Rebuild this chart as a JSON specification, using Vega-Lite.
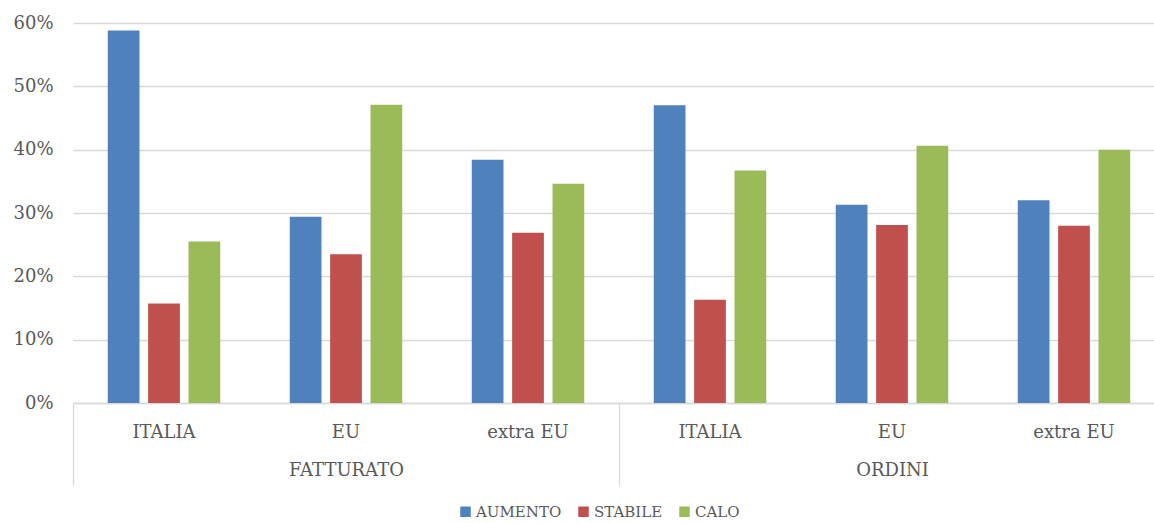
{
  "$schema": "https://vega.github.io/schema/vega-lite/v6.json",
  "autosize": {"type": "none"},
  "width": 1081,
  "height": 380,
  "padding": {"left": 73, "top": 23, "right": 0, "bottom": 120},
  "background": "white",
  "config": {
    "view": {"stroke": null},
    "font": "DejaVu Serif",
    "axis": {"labelFont": "DejaVu Serif", "labelColor": "#595959", "labelFontSize": 18}
  },
  "data": {
    "values": [
      {"group": "FATTURATO", "region": "ITALIA", "series": "AUMENTO", "value": 0.588},
      {"group": "FATTURATO", "region": "ITALIA", "series": "STABILE", "value": 0.157},
      {"group": "FATTURATO", "region": "ITALIA", "series": "CALO", "value": 0.255},
      {"group": "FATTURATO", "region": "EU", "series": "AUMENTO", "value": 0.294},
      {"group": "FATTURATO", "region": "EU", "series": "STABILE", "value": 0.235},
      {"group": "FATTURATO", "region": "EU", "series": "CALO", "value": 0.471},
      {"group": "FATTURATO", "region": "extra EU", "series": "AUMENTO", "value": 0.384},
      {"group": "FATTURATO", "region": "extra EU", "series": "STABILE", "value": 0.269},
      {"group": "FATTURATO", "region": "extra EU", "series": "CALO", "value": 0.346},
      {"group": "ORDINI", "region": "ITALIA", "series": "AUMENTO", "value": 0.470},
      {"group": "ORDINI", "region": "ITALIA", "series": "STABILE", "value": 0.163},
      {"group": "ORDINI", "region": "ITALIA", "series": "CALO", "value": 0.367},
      {"group": "ORDINI", "region": "EU", "series": "AUMENTO", "value": 0.313},
      {"group": "ORDINI", "region": "EU", "series": "STABILE", "value": 0.281},
      {"group": "ORDINI", "region": "EU", "series": "CALO", "value": 0.406},
      {"group": "ORDINI", "region": "extra EU", "series": "AUMENTO", "value": 0.320},
      {"group": "ORDINI", "region": "extra EU", "series": "STABILE", "value": 0.280},
      {"group": "ORDINI", "region": "extra EU", "series": "CALO", "value": 0.400}
    ]
  },
  "transform": [{"calculate": "datum.group + '|' + datum.region", "as": "cat"}],
  "layer": [
    {
      "mark": {"type": "bar"},
      "encoding": {
        "x": {
          "field": "cat", "type": "nominal", "sort": null, "title": null,
          "scale": {"range": [0, 1092], "paddingInner": 0.382, "paddingOuter": 0.191},
          "axis": {
            "labelExpr": "split(datum.label, '|')[1]",
            "labelAngle": 0, "ticks": false, "labelPadding": 20,
            "domainColor": "#d9d9d9", "domainWidth": 1.3, "grid": false
          }
        },
        "xOffset": {
          "field": "series", "type": "nominal", "sort": ["AUMENTO", "STABILE", "CALO"],
          "scale": {"paddingInner": 0.214, "paddingOuter": 0}
        },
        "y": {
          "field": "value", "type": "quantitative", "stack": null,
          "scale": {"domain": [0, 0.6]},
          "axis": {
            "title": null, "format": ".0%", "values": [0, 0.1, 0.2, 0.3, 0.4, 0.5, 0.6],
            "domain": false, "ticks": false, "labelPadding": 20,
            "gridColor": "#d9d9d9", "gridWidth": 1.3
          }
        },
        "color": {
          "field": "series", "type": "nominal", "sort": ["AUMENTO", "STABILE", "CALO"],
          "scale": {"domain": ["AUMENTO", "STABILE", "CALO"], "range": ["#4F81BD", "#C0504D", "#9BBB59"]},
          "legend": {
            "title": null, "orient": "none", "direction": "horizontal",
            "legendX": 385, "legendY": 481,
            "symbolType": "square", "symbolSize": 110, "symbolStrokeWidth": 0,
            "labelFont": "DejaVu Serif", "labelFontSize": 15, "labelColor": "#595959",
            "labelOffset": 3, "columnPadding": 14
          }
        }
      }
    },
    {
      "mark": {"type": "bar", "opacity": 0},
      "encoding": {
        "x": {
          "field": "group", "type": "nominal", "title": null,
          "scale": {"range": [0, 1092], "paddingInner": 0, "paddingOuter": 0},
          "axis": {
            "orient": "bottom", "labelAngle": 0, "domain": false,
            "tickBand": "extent", "tickSize": 82, "tickColor": "#d9d9d9", "tickWidth": 1.3,
            "labelPadding": -24, "grid": false
          }
        },
        "y": {
          "field": "value", "type": "quantitative", "stack": null,
          "scale": {"domain": [0, 0.6]}
        }
      }
    }
  ],
  "resolve": {"scale": {"x": "independent"}, "axis": {"x": "independent"}}
}
